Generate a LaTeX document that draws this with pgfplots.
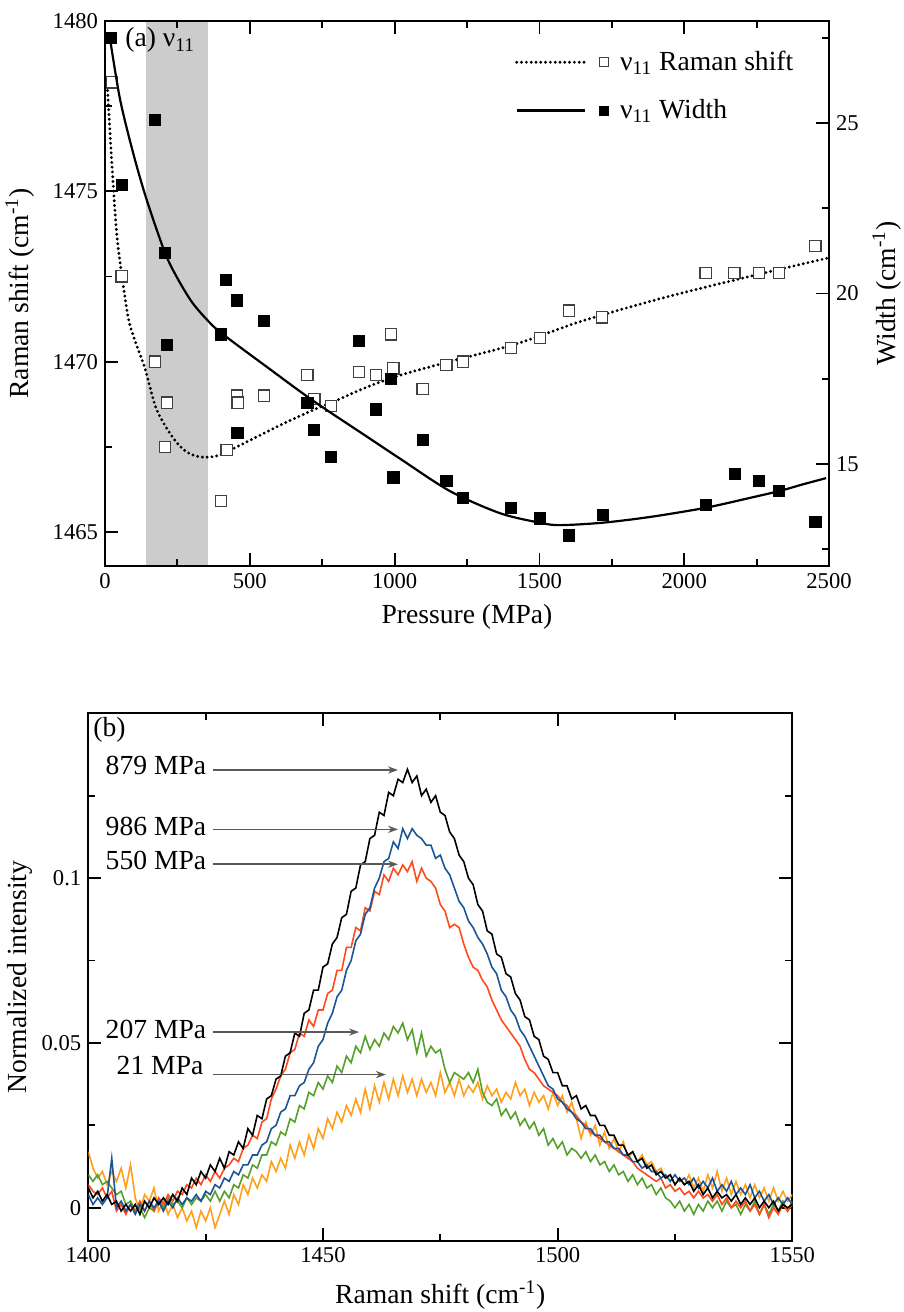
\documentclass[border=0pt]{standalone}
\usepackage{fontspec}
\setmainfont{Liberation Serif}
\usepackage{pgfplots}
\pgfplotsset{compat=1.18}
\usepackage{pgfplotstable}
\usetikzlibrary{arrows.meta}

\definecolor{c986}{HTML}{1B5596}
\definecolor{c550}{HTML}{FF4A1C}
\definecolor{c207}{HTML}{55A02B}
\definecolor{c21}{HTML}{FF9F1A}
\definecolor{arrowgray}{HTML}{5A5A5A}
\definecolor{bandgray}{HTML}{CCCCCC}

\newcommand{\lab}{\fontsize{13.8}{16}\selectfont}
\newcommand{\tkl}{\fontsize{11.3}{13}\selectfont}

\tikzset{dotline/.style={line width=1.6pt, line cap=round, dash pattern=on 0pt off 2.4pt}}

\pgfplotsset{
  myax/.style={
    scale only axis,
    axis line style={line width=1pt},
    every tick/.style={black, line width=0.9pt},
    major tick length=6.5pt, minor tick length=3.5pt,
    tick align=inside,
    tick label style={font=\tkl},
    label style={font=\lab},
    /pgf/number format/assume math mode=true,
    /pgf/number format/1000 sep={},
  },
}

% raman shift (open squares), left axis
\pgfplotstableread{
p v
24 1478.2
57 1472.5
172 1470.0
207 1467.5
215 1468.8
400 1465.9
420 1467.4
455 1469.0
458 1468.8
550 1469.0
699 1469.6
723 1468.9
780 1468.7
878 1469.7
936 1469.6
988 1470.8
996 1469.8
1097 1469.2
1179 1469.9
1237 1470.0
1402 1470.4
1502 1470.7
1602 1471.5
1717 1471.3
2074 1472.6
2173 1472.6
2258 1472.6
2328 1472.6
2453 1473.4
}\shift

% width (filled squares), right axis
\pgfplotstableread{
p w
21 27.5
58 23.2
173 25.1
207 21.2
215 18.5
400 18.8
418 20.4
455 19.8
457 15.9
550 19.2
699 16.8
722 16.0
780 15.2
878 18.6
936 16.6
988 17.5
996 14.6
1097 15.7
1179 14.5
1237 14.0
1402 13.7
1502 13.4
1602 12.9
1718 13.5
2074 13.8
2175 14.7
2258 14.5
2328 14.2
2453 13.3
}\width

% spectra: x, 879 (b), 986 (u), 550 (r), 207 (g), 21 (o) MPa
\pgfplotstableread{
x b u r g o
1400 0.006 0.004 0.007 0.010 0.017
1401 0.003 0.001 0.005 0.008 0.012
1402 0.005 0.003 0.004 0.010 0.009
1403 0.002 0.001 0.006 0.007 0.011
1404 0.004 0.003 0.003 0.008 0.007
1405 0.001 0.015 0.005 0.006 0.011
1406 0.002 0.000 -0.001 0.004 0.008
1407 -0.001 0.002 0.001 0.005 0.012
1408 0.001 -0.001 -0.002 0.001 0.006
1409 -0.001 0.001 0.001 0.002 0.013
1410 0.001 -0.002 -0.001 -0.001 0.003
1411 -0.002 0.001 0.002 0.000 -0.001
1412 0.002 -0.001 -0.001 -0.003 0.004
1413 0.000 0.002 0.002 0.000 0.002
1414 0.003 0.000 -0.001 -0.001 0.006
1415 0.001 0.002 0.003 0.002 -0.001
1416 0.003 -0.001 0.001 0.000 0.002
1417 0.001 0.002 0.004 0.003 -0.002
1418 0.004 0.000 0.002 0.001 0.001
1419 0.002 0.003 0.005 0.002 -0.003
1420 0.006 0.001 0.004 0.000 0.000
1421 0.004 0.003 0.007 0.003 -0.004
1422 0.009 0.002 0.006 0.001 -0.001
1423 0.007 0.004 0.009 0.003 -0.006
1424 0.011 0.002 0.007 0.002 -0.001
1425 0.009 0.005 0.010 0.004 -0.004
1426 0.013 0.004 0.008 0.002 0.000
1427 0.011 0.007 0.011 0.005 -0.006
1428 0.015 0.006 0.009 0.002 -0.002
1429 0.012 0.009 0.012 0.005 0.002
1430 0.017 0.008 0.013 0.003 -0.002
1431 0.016 0.011 0.015 0.007 0.004
1432 0.020 0.010 0.014 0.006 0.001
1433 0.018 0.013 0.018 0.010 0.007
1434 0.024 0.013 0.019 0.009 0.004
1435 0.022 0.016 0.022 0.013 0.009
1436 0.028 0.016 0.021 0.012 0.006
1437 0.027 0.019 0.026 0.016 0.010
1438 0.033 0.020 0.027 0.016 0.008
1439 0.034 0.024 0.033 0.020 0.014
1440 0.039 0.025 0.036 0.019 0.011
1441 0.040 0.029 0.040 0.023 0.015
1442 0.046 0.030 0.042 0.022 0.012
1443 0.047 0.034 0.047 0.027 0.019
1444 0.053 0.034 0.048 0.026 0.015
1445 0.052 0.037 0.053 0.031 0.020
1446 0.059 0.038 0.052 0.030 0.016
1447 0.060 0.042 0.057 0.035 0.022
1448 0.066 0.044 0.055 0.034 0.018
1449 0.066 0.049 0.060 0.038 0.024
1450 0.073 0.051 0.060 0.036 0.021
1451 0.074 0.056 0.065 0.040 0.027
1452 0.080 0.059 0.066 0.038 0.024
1453 0.082 0.064 0.072 0.043 0.029
1454 0.088 0.066 0.072 0.041 0.026
1455 0.089 0.072 0.079 0.046 0.031
1456 0.096 0.075 0.079 0.044 0.028
1457 0.097 0.081 0.085 0.049 0.033
1458 0.104 0.083 0.084 0.047 0.029
1459 0.105 0.089 0.091 0.052 0.036
1460 0.112 0.091 0.090 0.048 0.030
1461 0.113 0.097 0.096 0.051 0.037
1462 0.120 0.100 0.095 0.049 0.032
1463 0.119 0.105 0.101 0.053 0.038
1464 0.126 0.106 0.099 0.051 0.033
1465 0.125 0.111 0.103 0.055 0.039
1466 0.130 0.109 0.101 0.053 0.034
1467 0.129 0.115 0.104 0.056 0.040
1468 0.133 0.112 0.102 0.051 0.035
1469 0.129 0.115 0.105 0.054 0.039
1470 0.131 0.113 0.099 0.047 0.034
1471 0.125 0.112 0.103 0.053 0.039
1472 0.127 0.110 0.100 0.046 0.035
1473 0.123 0.110 0.099 0.049 0.038
1474 0.125 0.106 0.097 0.047 0.034
1475 0.120 0.107 0.092 0.048 0.041
1476 0.119 0.103 0.090 0.042 0.035
1477 0.114 0.101 0.085 0.038 0.038
1478 0.112 0.097 0.086 0.041 0.034
1479 0.107 0.093 0.085 0.040 0.039
1480 0.105 0.091 0.080 0.039 0.034
1481 0.100 0.087 0.076 0.041 0.037
1482 0.098 0.085 0.073 0.038 0.035
1483 0.092 0.082 0.072 0.042 0.038
1484 0.090 0.080 0.069 0.035 0.033
1485 0.084 0.077 0.067 0.032 0.037
1486 0.083 0.073 0.063 0.031 0.034
1487 0.077 0.071 0.060 0.033 0.036
1488 0.076 0.066 0.057 0.028 0.032
1489 0.071 0.064 0.055 0.030 0.035
1490 0.070 0.060 0.053 0.027 0.033
1491 0.065 0.058 0.051 0.029 0.038
1492 0.063 0.054 0.049 0.025 0.034
1493 0.058 0.052 0.045 0.027 0.036
1494 0.057 0.049 0.042 0.024 0.031
1495 0.052 0.046 0.041 0.026 0.035
1496 0.051 0.043 0.039 0.022 0.032
1497 0.046 0.040 0.037 0.024 0.034
1498 0.045 0.037 0.036 0.019 0.030
1499 0.041 0.036 0.035 0.021 0.035
1500 0.041 0.033 0.034 0.018 0.031
1501 0.037 0.032 0.032 0.020 0.034
1502 0.037 0.030 0.031 0.016 0.029
1503 0.033 0.029 0.029 0.018 0.032
1504 0.034 0.027 0.028 0.017 0.027
1505 0.030 0.026 0.026 0.015 0.021
1506 0.031 0.024 0.025 0.017 0.026
1507 0.028 0.024 0.023 0.014 0.022
1508 0.028 0.022 0.022 0.016 0.025
1509 0.025 0.022 0.021 0.013 0.019
1510 0.025 0.020 0.020 0.014 0.023
1511 0.022 0.020 0.019 0.011 0.018
1512 0.022 0.018 0.018 0.013 0.021
1513 0.019 0.018 0.017 0.010 0.017
1514 0.019 0.016 0.016 0.011 0.020
1515 0.016 0.016 0.015 0.008 0.015
1516 0.017 0.014 0.014 0.010 0.017
1517 0.014 0.014 0.012 0.007 0.014
1518 0.015 0.012 0.011 0.009 0.016
1519 0.012 0.013 0.010 0.006 0.013
1520 0.013 0.011 0.009 0.007 0.014
1521 0.010 0.011 0.008 0.004 0.011
1522 0.011 0.009 0.009 0.006 0.012
1523 0.009 0.010 0.006 0.003 0.009
1524 0.010 0.008 0.007 0.002 0.010
1525 0.007 0.010 0.005 0.000 0.007
1526 0.009 0.008 0.006 0.002 0.009
1527 0.007 0.009 0.004 -0.001 0.007
1528 0.008 0.007 0.005 0.001 0.010
1529 0.005 0.009 0.003 -0.002 0.006
1530 0.007 0.006 0.005 0.001 0.009
1531 0.004 0.008 0.003 -0.001 0.005
1532 0.006 0.006 0.004 0.002 0.010
1533 0.003 0.009 0.002 0.000 0.006
1534 0.005 0.005 0.004 0.002 0.011
1535 0.003 0.007 0.001 -0.001 0.005
1536 0.004 0.005 0.003 0.002 0.009
1537 0.002 0.008 0.000 0.000 0.004
1538 0.004 0.004 0.002 0.001 0.008
1539 0.001 0.006 0.000 -0.002 0.004
1540 0.003 0.004 0.002 0.001 0.007
1541 0.001 0.007 -0.001 -0.001 0.003
1542 0.003 0.003 0.001 0.002 0.007
1543 0.000 0.005 -0.002 -0.002 0.003
1544 0.002 0.002 0.001 0.001 0.006
1545 0.000 0.004 -0.003 -0.002 0.002
1546 0.002 0.001 0.000 0.001 0.006
1547 -0.001 0.003 -0.002 -0.001 0.002
1548 0.001 0.001 0.001 0.002 0.005
1549 0.000 0.003 -0.001 -0.001 0.002
1550 0.001 0.001 0.001 0.002 0.004
}\spec

\begin{document}
\begin{tikzpicture}

% ---------- (a) left axis: Raman shift ----------
\begin{axis}[myax,
  at={(0,0)}, anchor=north west,
  width=362pt, height=272.5pt,
  xmin=0, xmax=2500, ymin=1464, ymax=1480,
  xtick={0,500,...,2500}, minor xtick={250,750,...,2250},
  ytick={1465,1470,1475,1480}, minor ytick={1467.5,1472.5,1477.5},
  ytick pos=left,
  xlabel={Pressure (MPa)}, ylabel={Raman shift (cm\textsuperscript{-1})},
  xlabel style={at={(axis description cs:0.5,-0.094)}, anchor=center},
  ylabel style={at={(axis description cs:-0.1174,0.5)}, anchor=center},
  axis on top, clip=false]
  \fill[bandgray] (axis cs:141,1464) rectangle (axis cs:357,1480);
  \addplot[black, dotline, smooth, tension=0.5] coordinates {
    (8,1478.1) (23,1475.9) (40,1473.8) (57,1472.6) (80,1471.3) (100,1470.7)
    (138,1469.8) (178,1468.6) (236,1467.75) (282,1467.35) (330,1467.2)
    (380,1467.22) (420,1467.35) (512,1467.74) (616,1468.18) (719,1468.58)
    (788,1468.82) (904,1469.25) (1019,1469.6) (1180,1469.98) (1420,1470.52)
    (1650,1471.2) (1940,1471.9) (2250,1472.55) (2500,1473.05)};
  \addplot[only marks, mark=square*, mark size=2.8pt,
    mark options={fill=white, draw=black!75, line width=0.6pt}] table[x=p, y=v] {\shift};
  \node[anchor=west, inner sep=0pt, font=\lab] at (axis description cs:0.0276,0.965) {(a) ν\textsubscript{11}};
\end{axis}

% ---------- (a) right axis: Width ----------
\begin{axis}[myax,
  at={(0,0)}, anchor=north west,
  width=362pt, height=272.5pt,
  xmin=0, xmax=2500, ymin=12, ymax=28,
  axis y line*=right, axis x line=none,
  y axis line style={-},
  ytick={15,20,25}, minor ytick={12.5,17.5,22.5,27.5},
  ylabel={Width (cm\textsuperscript{-1})},
  ylabel style={at={(axis description cs:1.080,0.5)}, anchor=center},
  clip=false,
  legend style={at={(axis description cs:0.566,0.953)}, anchor=north west,
    draw=none, fill=none, font=\lab, row sep=9pt, inner sep=0pt},
  legend cell align=left]
  \addplot[black, line width=1.1pt, smooth, tension=0.5, forget plot] coordinates {
    (17,27.5) (52,25.7) (98,24.1) (144,22.75) (207,21.2) (250,20.45)
    (300,19.75) (350,19.25) (400,18.85) (558,17.85) (719,16.85)
    (904,15.8) (1019,15.15) (1191,14.2) (1364,13.55) (1502,13.27) (1571,13.2)
    (1717,13.27) (1882,13.44) (2074,13.71) (2227,14.0) (2328,14.2)
    (2411,14.4) (2490,14.58)};
  \addplot[only marks, mark=square*, mark size=2.8pt, black, forget plot] table[x=p, y=w] {\width};
  \addlegendimage{legend image code/.code={
    \draw[black, dotline] (0pt,0pt) -- (34pt,0pt);
    \draw[black!75, fill=white, line width=0.6pt] (41.4pt,-2.2pt) rectangle (45.8pt,2.2pt);
    \path (49.5pt,0pt);}}
  \addlegendentry{ν\textsubscript{11} Raman shift}
  \addlegendimage{legend image code/.code={
    \draw[black, line width=1.1pt] (0pt,0pt) -- (34pt,0pt);
    \fill[black] (41.4pt,-2.3pt) rectangle (45.8pt,2.3pt);
    \path (49.5pt,0pt);}}
  \addlegendentry{ν\textsubscript{11} Width}
\end{axis}

% ---------- (b) spectra ----------
\begin{axis}[myax,
  at={(-8.35pt,-346.15pt)}, anchor=north west,
  width=352pt, height=263.7pt,
  xmin=1400, xmax=1550, ymin=-0.01, ymax=0.15,
  xtick={1400,1450,1500,1550}, minor xtick={1425,1475,1525},
  ytick={0,0.05,0.1}, yticklabels={0,0.05,0.1},
  minor ytick={0.025,0.075,0.125},
  xlabel={Raman shift (cm\textsuperscript{-1})}, ylabel={Normalized intensity},
  xlabel style={at={(axis description cs:0.5,-0.103)}, anchor=center},
  ylabel style={at={(axis description cs:-0.097,0.5)}, anchor=center}]
  \addplot[c21, line width=0.8pt] table[x=x, y=o] {\spec};
  \addplot[c207, line width=0.8pt] table[x=x, y=g] {\spec};
  \addplot[c550, line width=0.8pt] table[x=x, y=r] {\spec};
  \addplot[c986, line width=0.8pt] table[x=x, y=u] {\spec};
  \addplot[black, line width=0.8pt] table[x=x, y=b] {\spec};
  \node[anchor=west, inner sep=0pt, font=\lab] at (axis description cs:0.0067,0.968) {(b)};
  \begin{scope}[every node/.style={anchor=east, inner sep=0pt, font=\lab},
      arr/.style={arrowgray, line width=0.8pt, -{Stealth[length=5pt, width=3.6pt]}}]
    \node at (axis cs:1425.2,0.1343) {879 MPa};
    \draw[arr] (axis cs:1426.6,0.1328) -- (axis cs:1466,0.1328);
    \node at (axis cs:1425.2,0.1158) {986 MPa};
    \draw[arr] (axis cs:1426.6,0.1148) -- (axis cs:1466,0.1148);
    \node at (axis cs:1425.2,0.1053) {550 MPa};
    \draw[arr] (axis cs:1426.6,0.1042) -- (axis cs:1466,0.1042);
    \node at (axis cs:1425.2,0.0542) {207 MPa};
    \draw[arr] (axis cs:1426.6,0.0533) -- (axis cs:1457.7,0.0533);
    \node at (axis cs:1424.6,0.0431) {21 MPa};
    \draw[arr] (axis cs:1426.6,0.0404) -- (axis cs:1463.4,0.0404);
  \end{scope}
\end{axis}

\pgfresetboundingbox
\useasboundingbox (-52.5pt,10.5pt) rectangle (399.5pt,-645.5pt);
\end{tikzpicture}
\end{document}
